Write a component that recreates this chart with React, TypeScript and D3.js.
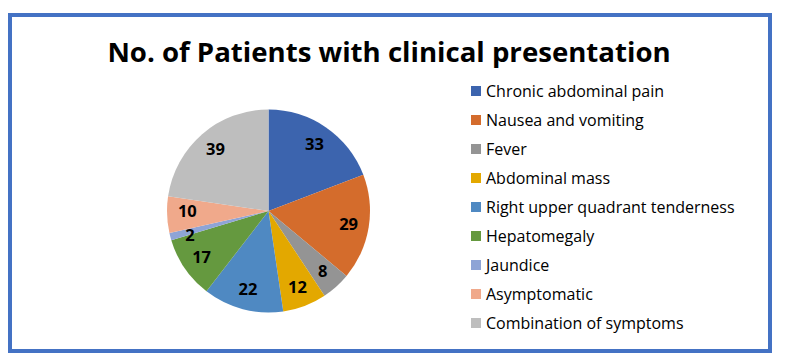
import React from 'react';
import * as d3 from 'd3';

const categories = [
  'Chronic abdominal pain',
  'Nausea and vomiting',
  'Fever',
  'Abdominal mass',
  'Right upper quadrant tenderness',
  'Hepatomegaly',
  'Jaundice',
  'Asymptomatic',
  'Combination of symptoms',
];
const patients = [33, 29, 8, 12, 22, 17, 2, 10, 39];
const sliceColors = [
  '#3c64ae',
  '#d46c2c',
  '#949494',
  '#e3a800',
  '#4f89c2',
  '#65993f',
  '#8ea4d6',
  '#f0a98b',
  '#bebebe',
];
const title = 'No. of Patients with clinical presentation';

const W = 788;
const H = 361;
const font = '"Open Sans", "Liberation Sans", sans-serif';

export default function App() {
  const cx = 268.5;
  const cy = 211;
  const r = 101.5;

  const data = categories.map((c, i) => ({ name: c, value: patients[i], color: sliceColors[i] }));
  const pie = d3.pie<any>().sort(null).value((d) => d.value);
  const arcs = pie(data);
  const arc = d3.arc<any>().innerRadius(0).outerRadius(r);
  const labelArc = d3.arc<any>().innerRadius(r * 0.8).outerRadius(r * 0.8);

  // label positions, nudged apart when neighbours crowd each other
  const labels = arcs.map((a) => {
    const [x, y] = labelArc.centroid(a);
    return { x, y, value: a.data.value };
  });
  const minGap = 24;
  for (let i = 1; i < labels.length; i++) {
    const a = labels[i - 1];
    const b = labels[i];
    const dist = Math.hypot(a.x - b.x, a.y - b.y);
    if (dist < minGap) {
      const push = (minGap - Math.abs(a.y - b.y)) / 2;
      const dir = b.y >= a.y ? 1 : -1;
      a.y -= dir * push;
      b.y += dir * push;
    }
  }

  // legend rows
  const legendY = d3.scalePoint<string>().domain(categories).range([91, 323]);

  return (
    <svg width={W} height={H} style={{ position: 'absolute', left: 0, top: 0 }}>
      <rect x={0} y={0} width={W} height={H} fill="#fff" />
      <rect x={10} y={15} width={760} height={336} fill="#fff" stroke="#4472c4" strokeWidth={4} />
      <text x={389} y={62} textAnchor="middle" fontFamily={font} fontWeight="bold" fontSize={27.6} fill="#000">
        {title}
      </text>
      <g transform={`translate(${cx},${cy})`}>
        {arcs.map((a, i) => (
          <path key={i} d={arc(a) as string} fill={a.data.color} />
        ))}
        {labels.map((l, i) => (
          <text
            key={i}
            x={l.x}
            y={l.y}
            dy="0.35em"
            textAnchor="middle"
            fontFamily={font}
            fontWeight="bold"
            fontSize={16.5}
            fill="#000"
          >
            {l.value}
          </text>
        ))}
      </g>
      <g>
        {categories.map((c, i) => (
          <g key={c} transform={`translate(471,${legendY(c)})`}>
            <rect x={0} y={-5} width={10} height={10} fill={sliceColors[i]} />
            <text x={15} y={0} dy="0.35em" fontFamily={font} fontSize={16} fill="#000">
              {c}
            </text>
          </g>
        ))}
      </g>
    </svg>
  );
}
